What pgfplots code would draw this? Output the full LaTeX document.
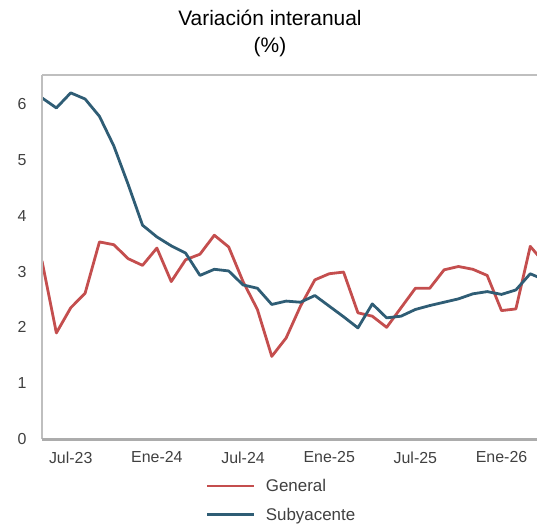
\documentclass[border=0pt]{standalone}
\usepackage{pgfplots}
\pgfplotsset{compat=1.18}
\usepackage{fontspec}
\setmainfont{Liberation Sans}
\definecolor{cgen}{HTML}{C44E4E}
\definecolor{csub}{HTML}{2F5D75}
\definecolor{axg}{HTML}{BFBFBF}
\definecolor{txt}{HTML}{404040}
\begin{document}
\begin{tikzpicture}[x=1bp,y=1bp]
\begin{axis}[
  width=495bp, height=364bp, scale only axis,
  xmin=0, xmax=34.47, ymin=0, ymax=6.52,
  axis line style={draw=none},
  xtick={2,8,14,20,26,32},
  xticklabels={Jul-23,Ene-24,Jul-24,Ene-25,Jul-25,Ene-26},
  ytick={0,1,2,3,4,5,6},
  tick style={draw=none},
  /pgf/number format/assume math mode=true,
  ticklabel style={font=\fontsize{16}{18}\selectfont, text=txt},
  yticklabel style={xshift=-12bp},
  xticklabel style={yshift=-9bp},
  clip=true,
  legend style={draw=none, fill=none, at={(rel axis cs:0.331,0)}, anchor=north west, yshift=-38bp,
    font=\fontsize{17}{19}\selectfont, text=txt, row sep=11bp, inner sep=0pt},
  legend cell align=left,
  legend image code/.code={\draw[#1, line width=2.8bp] (0bp,0bp) -- (47bp,0bp); \path (55bp,0bp);},
]
\addplot[cgen, line width=2.8bp, line join=round] coordinates {
(0,3.19) (1,1.90) (2,2.35) (3,2.61) (4,3.53) (5,3.48) (6,3.23) (7,3.11) (8,3.42) (9,2.82)
(10,3.21) (11,3.31) (12,3.65) (13,3.44) (14,2.82) (15,2.32) (16,1.48) (17,1.81) (18,2.38) (19,2.85)
(20,2.96) (21,2.99) (22,2.26) (23,2.20) (24,2.00) (25,2.35) (26,2.70) (27,2.70) (28,3.03) (29,3.09)
(30,3.04) (31,2.93) (32,2.30) (33,2.33) (34,3.45) (35,3.15)
};
\addlegendentry{General}
\addplot[csub, line width=2.8bp, line join=round] coordinates {
(0,6.11) (1,5.93) (2,6.20) (3,6.09) (4,5.78) (5,5.25) (6,4.56) (7,3.83) (8,3.62) (9,3.46)
(10,3.33) (11,2.93) (12,3.04) (13,3.01) (14,2.76) (15,2.70) (16,2.41) (17,2.47) (18,2.45) (19,2.57)
(20,2.38) (21,2.19) (22,1.99) (23,2.42) (24,2.17) (25,2.20) (26,2.32) (27,2.39) (28,2.45) (29,2.51)
(30,2.60) (31,2.64) (32,2.59) (33,2.67) (34,2.96) (35,2.85)
};
\addlegendentry{Subyacente}
\coordinate (bl) at (rel axis cs:0,0);
\coordinate (tl) at (rel axis cs:0,1);
\coordinate (tr) at (rel axis cs:1,1);
\coordinate (br) at (rel axis cs:1,0);
\end{axis}
\draw[axg, line width=1.2bp] (tl) -- (bl);
\draw[axg, line width=1.2bp] (tl) -- (tr);
\draw[axg!90!black, line width=2.4bp] ([yshift=-0.6bp]bl) -- ([yshift=-0.6bp]br);
\node[font=\fontsize{21}{23}\selectfont, text=black] at ([xshift=228bp,yshift=57bp]tl) {Variación interanual};
\node[font=\fontsize{21}{23}\selectfont, text=black] at ([xshift=228bp,yshift=28bp]tl) {(\%)};
\pgfresetboundingbox
\path[use as bounding box] ([xshift=-42bp,yshift=-88bp]bl) rectangle ([yshift=75bp]tr);
\end{tikzpicture}
\end{document}
